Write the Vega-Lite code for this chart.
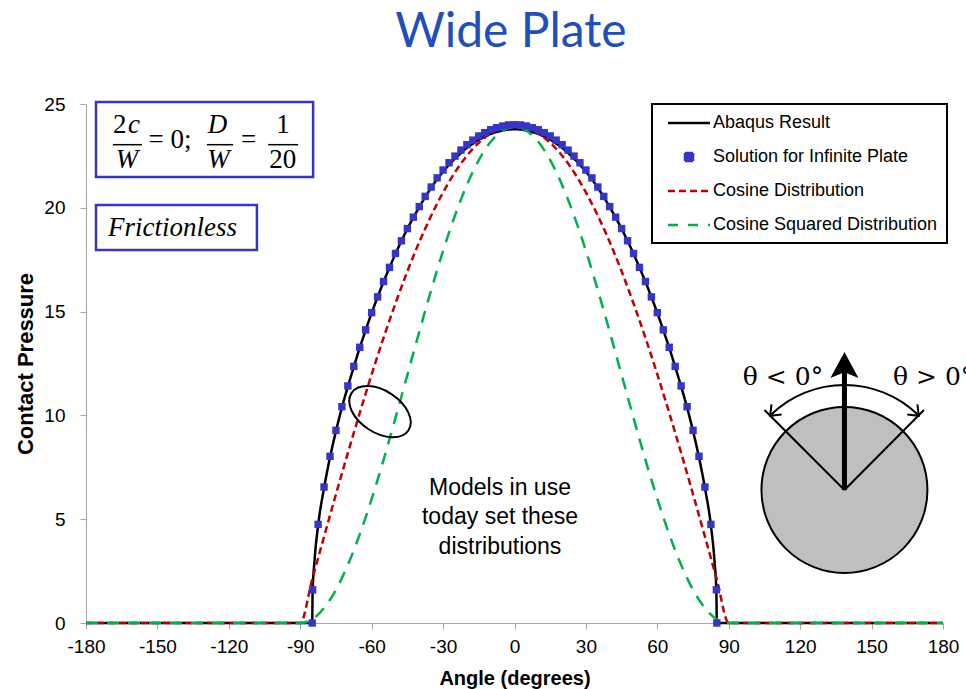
{
"$schema": "https://vega.github.io/schema/vega-lite/v6.json",
"width": 857, "height": 519, "autosize": "none",
"padding": {"left": 86, "top": 104, "right": 23, "bottom": 66},
"background": "white",
"config": {"view": {"stroke": null}, "font": "Liberation Sans"},
"datasets": {
"curves": [
{"series":"Abaqus Result","angle":-180,"pressure":0},{"series":"Abaqus Result","angle":-85,"pressure":0},{"series":"Abaqus Result","angle":-84.8,"pressure":1.5},{"series":"Abaqus Result","angle":-84,"pressure":3.0},{"series":"Abaqus Result","angle":-82.5,"pressure":4.7},{"series":"Abaqus Result","angle":-80,"pressure":6.5},{"series":"Abaqus Result","angle":-77.5,"pressure":7.98},{"series":"Abaqus Result","angle":-75,"pressure":9.24},{"series":"Abaqus Result","angle":-72.5,"pressure":10.38},{"series":"Abaqus Result","angle":-70,"pressure":11.39},{"series":"Abaqus Result","angle":-67.5,"pressure":12.34},{"series":"Abaqus Result","angle":-65,"pressure":13.26},{"series":"Abaqus Result","angle":-62.5,"pressure":14.11},{"series":"Abaqus Result","angle":-60,"pressure":14.94},{"series":"Abaqus Result","angle":-57.5,"pressure":15.7},{"series":"Abaqus Result","angle":-55,"pressure":16.44},{"series":"Abaqus Result","angle":-52.5,"pressure":17.12},{"series":"Abaqus Result","angle":-50,"pressure":17.79},{"series":"Abaqus Result","angle":-47.5,"pressure":18.4},{"series":"Abaqus Result","angle":-45,"pressure":18.99},{"series":"Abaqus Result","angle":-42.5,"pressure":19.53},{"series":"Abaqus Result","angle":-40,"pressure":20.03},{"series":"Abaqus Result","angle":-37.5,"pressure":20.52},{"series":"Abaqus Result","angle":-35,"pressure":20.96},{"series":"Abaqus Result","angle":-32.5,"pressure":21.38},{"series":"Abaqus Result","angle":-30,"pressure":21.74},{"series":"Abaqus Result","angle":-27.5,"pressure":22.07},{"series":"Abaqus Result","angle":-25,"pressure":22.37},{"series":"Abaqus Result","angle":-22.5,"pressure":22.64},{"series":"Abaqus Result","angle":-20,"pressure":22.89},{"series":"Abaqus Result","angle":-17.5,"pressure":23.09},{"series":"Abaqus Result","angle":-15,"pressure":23.28},{"series":"Abaqus Result","angle":-12.5,"pressure":23.43},{"series":"Abaqus Result","angle":-10,"pressure":23.56},{"series":"Abaqus Result","angle":-7.5,"pressure":23.65},{"series":"Abaqus Result","angle":-5,"pressure":23.72},{"series":"Abaqus Result","angle":-2.5,"pressure":23.77},{"series":"Abaqus Result","angle":0,"pressure":23.78},{"series":"Abaqus Result","angle":2.5,"pressure":23.77},{"series":"Abaqus Result","angle":5,"pressure":23.72},{"series":"Abaqus Result","angle":7.5,"pressure":23.65},{"series":"Abaqus Result","angle":10,"pressure":23.56},{"series":"Abaqus Result","angle":12.5,"pressure":23.43},{"series":"Abaqus Result","angle":15,"pressure":23.28},{"series":"Abaqus Result","angle":17.5,"pressure":23.09},{"series":"Abaqus Result","angle":20,"pressure":22.89},{"series":"Abaqus Result","angle":22.5,"pressure":22.64},{"series":"Abaqus Result","angle":25,"pressure":22.37},{"series":"Abaqus Result","angle":27.5,"pressure":22.07},{"series":"Abaqus Result","angle":30,"pressure":21.74},{"series":"Abaqus Result","angle":32.5,"pressure":21.38},{"series":"Abaqus Result","angle":35,"pressure":20.96},{"series":"Abaqus Result","angle":37.5,"pressure":20.52},{"series":"Abaqus Result","angle":40,"pressure":20.03},{"series":"Abaqus Result","angle":42.5,"pressure":19.53},{"series":"Abaqus Result","angle":45,"pressure":18.99},{"series":"Abaqus Result","angle":47.5,"pressure":18.4},{"series":"Abaqus Result","angle":50,"pressure":17.79},{"series":"Abaqus Result","angle":52.5,"pressure":17.12},{"series":"Abaqus Result","angle":55,"pressure":16.44},{"series":"Abaqus Result","angle":57.5,"pressure":15.7},{"series":"Abaqus Result","angle":60,"pressure":14.94},{"series":"Abaqus Result","angle":62.5,"pressure":14.11},{"series":"Abaqus Result","angle":65,"pressure":13.26},{"series":"Abaqus Result","angle":67.5,"pressure":12.34},{"series":"Abaqus Result","angle":70,"pressure":11.39},{"series":"Abaqus Result","angle":72.5,"pressure":10.38},{"series":"Abaqus Result","angle":75,"pressure":9.24},{"series":"Abaqus Result","angle":77.5,"pressure":7.98},{"series":"Abaqus Result","angle":80,"pressure":6.5},{"series":"Abaqus Result","angle":82.5,"pressure":4.7},{"series":"Abaqus Result","angle":84,"pressure":3.0},{"series":"Abaqus Result","angle":84.8,"pressure":1.5},{"series":"Abaqus Result","angle":85,"pressure":0},{"series":"Abaqus Result","angle":180,"pressure":0},
{"series":"Cosine Distribution","angle":-180,"pressure":0},{"series":"Cosine Distribution","angle":-90,"pressure":0},{"series":"Cosine Distribution","angle":-85,"pressure":2.09},{"series":"Cosine Distribution","angle":-80,"pressure":4.16},{"series":"Cosine Distribution","angle":-75,"pressure":6.2},{"series":"Cosine Distribution","angle":-70,"pressure":8.19},{"series":"Cosine Distribution","angle":-65,"pressure":10.12},{"series":"Cosine Distribution","angle":-60,"pressure":11.98},{"series":"Cosine Distribution","angle":-55,"pressure":13.74},{"series":"Cosine Distribution","angle":-50,"pressure":15.39},{"series":"Cosine Distribution","angle":-45,"pressure":16.94},{"series":"Cosine Distribution","angle":-40,"pressure":18.35},{"series":"Cosine Distribution","angle":-35,"pressure":19.62},{"series":"Cosine Distribution","angle":-30,"pressure":20.74},{"series":"Cosine Distribution","angle":-25,"pressure":21.71},{"series":"Cosine Distribution","angle":-20,"pressure":22.51},{"series":"Cosine Distribution","angle":-15,"pressure":23.13},{"series":"Cosine Distribution","angle":-10,"pressure":23.59},{"series":"Cosine Distribution","angle":-5,"pressure":23.86},{"series":"Cosine Distribution","angle":0,"pressure":23.95},{"series":"Cosine Distribution","angle":5,"pressure":23.86},{"series":"Cosine Distribution","angle":10,"pressure":23.59},{"series":"Cosine Distribution","angle":15,"pressure":23.13},{"series":"Cosine Distribution","angle":20,"pressure":22.51},{"series":"Cosine Distribution","angle":25,"pressure":21.71},{"series":"Cosine Distribution","angle":30,"pressure":20.74},{"series":"Cosine Distribution","angle":35,"pressure":19.62},{"series":"Cosine Distribution","angle":40,"pressure":18.35},{"series":"Cosine Distribution","angle":45,"pressure":16.94},{"series":"Cosine Distribution","angle":50,"pressure":15.39},{"series":"Cosine Distribution","angle":55,"pressure":13.74},{"series":"Cosine Distribution","angle":60,"pressure":11.98},{"series":"Cosine Distribution","angle":65,"pressure":10.12},{"series":"Cosine Distribution","angle":70,"pressure":8.19},{"series":"Cosine Distribution","angle":75,"pressure":6.2},{"series":"Cosine Distribution","angle":80,"pressure":4.16},{"series":"Cosine Distribution","angle":85,"pressure":2.09},{"series":"Cosine Distribution","angle":90,"pressure":0},{"series":"Cosine Distribution","angle":180,"pressure":0},
{"series":"Cosine Squared Distribution","angle":-180,"pressure":0},{"series":"Cosine Squared Distribution","angle":-90,"pressure":0},{"series":"Cosine Squared Distribution","angle":-85,"pressure":0.18},{"series":"Cosine Squared Distribution","angle":-80,"pressure":0.72},{"series":"Cosine Squared Distribution","angle":-75,"pressure":1.6},{"series":"Cosine Squared Distribution","angle":-70,"pressure":2.8},{"series":"Cosine Squared Distribution","angle":-65,"pressure":4.27},{"series":"Cosine Squared Distribution","angle":-60,"pressure":5.98},{"series":"Cosine Squared Distribution","angle":-55,"pressure":7.86},{"series":"Cosine Squared Distribution","angle":-50,"pressure":9.88},{"series":"Cosine Squared Distribution","angle":-45,"pressure":11.95},{"series":"Cosine Squared Distribution","angle":-40,"pressure":14.03},{"series":"Cosine Squared Distribution","angle":-35,"pressure":16.04},{"series":"Cosine Squared Distribution","angle":-30,"pressure":17.93},{"series":"Cosine Squared Distribution","angle":-25,"pressure":19.63},{"series":"Cosine Squared Distribution","angle":-20,"pressure":21.1},{"series":"Cosine Squared Distribution","angle":-15,"pressure":22.3},{"series":"Cosine Squared Distribution","angle":-10,"pressure":23.18},{"series":"Cosine Squared Distribution","angle":-5,"pressure":23.72},{"series":"Cosine Squared Distribution","angle":0,"pressure":23.9},{"series":"Cosine Squared Distribution","angle":5,"pressure":23.72},{"series":"Cosine Squared Distribution","angle":10,"pressure":23.18},{"series":"Cosine Squared Distribution","angle":15,"pressure":22.3},{"series":"Cosine Squared Distribution","angle":20,"pressure":21.1},{"series":"Cosine Squared Distribution","angle":25,"pressure":19.63},{"series":"Cosine Squared Distribution","angle":30,"pressure":17.93},{"series":"Cosine Squared Distribution","angle":35,"pressure":16.04},{"series":"Cosine Squared Distribution","angle":40,"pressure":14.03},{"series":"Cosine Squared Distribution","angle":45,"pressure":11.95},{"series":"Cosine Squared Distribution","angle":50,"pressure":9.88},{"series":"Cosine Squared Distribution","angle":55,"pressure":7.86},{"series":"Cosine Squared Distribution","angle":60,"pressure":5.98},{"series":"Cosine Squared Distribution","angle":65,"pressure":4.27},{"series":"Cosine Squared Distribution","angle":70,"pressure":2.8},{"series":"Cosine Squared Distribution","angle":75,"pressure":1.6},{"series":"Cosine Squared Distribution","angle":80,"pressure":0.72},{"series":"Cosine Squared Distribution","angle":85,"pressure":0.18},{"series":"Cosine Squared Distribution","angle":90,"pressure":0},{"series":"Cosine Squared Distribution","angle":180,"pressure":0}
],
"solution": [
{"series":"Solution for Infinite Plate","angle":-85,"pressure":0},{"series":"Solution for Infinite Plate","angle":-84.8,"pressure":1.6},{"series":"Solution for Infinite Plate","angle":-82.5,"pressure":4.75},{"series":"Solution for Infinite Plate","angle":-80,"pressure":6.55},{"series":"Solution for Infinite Plate","angle":-77.5,"pressure":8.03},{"series":"Solution for Infinite Plate","angle":-75,"pressure":9.28},{"series":"Solution for Infinite Plate","angle":-72.5,"pressure":10.42},{"series":"Solution for Infinite Plate","angle":-70,"pressure":11.42},{"series":"Solution for Infinite Plate","angle":-67.5,"pressure":12.36},{"series":"Solution for Infinite Plate","angle":-65,"pressure":13.28},{"series":"Solution for Infinite Plate","angle":-62.5,"pressure":14.12},{"series":"Solution for Infinite Plate","angle":-60,"pressure":14.95},{"series":"Solution for Infinite Plate","angle":-57.5,"pressure":15.71},{"series":"Solution for Infinite Plate","angle":-55,"pressure":16.45},{"series":"Solution for Infinite Plate","angle":-52.5,"pressure":17.13},{"series":"Solution for Infinite Plate","angle":-50,"pressure":17.8},{"series":"Solution for Infinite Plate","angle":-47.5,"pressure":18.41},{"series":"Solution for Infinite Plate","angle":-45,"pressure":19.0},{"series":"Solution for Infinite Plate","angle":-42.5,"pressure":19.55},{"series":"Solution for Infinite Plate","angle":-40,"pressure":20.06},{"series":"Solution for Infinite Plate","angle":-37.5,"pressure":20.55},{"series":"Solution for Infinite Plate","angle":-35,"pressure":21.0},{"series":"Solution for Infinite Plate","angle":-32.5,"pressure":21.44},{"series":"Solution for Infinite Plate","angle":-30,"pressure":21.82},{"series":"Solution for Infinite Plate","angle":-27.5,"pressure":22.17},{"series":"Solution for Infinite Plate","angle":-25,"pressure":22.49},{"series":"Solution for Infinite Plate","angle":-22.5,"pressure":22.78},{"series":"Solution for Infinite Plate","angle":-20,"pressure":23.04},{"series":"Solution for Infinite Plate","angle":-17.5,"pressure":23.26},{"series":"Solution for Infinite Plate","angle":-15,"pressure":23.46},{"series":"Solution for Infinite Plate","angle":-12.5,"pressure":23.62},{"series":"Solution for Infinite Plate","angle":-10,"pressure":23.76},{"series":"Solution for Infinite Plate","angle":-7.5,"pressure":23.86},{"series":"Solution for Infinite Plate","angle":-5,"pressure":23.94},{"series":"Solution for Infinite Plate","angle":-2.5,"pressure":23.99},{"series":"Solution for Infinite Plate","angle":0,"pressure":24.0},{"series":"Solution for Infinite Plate","angle":2.5,"pressure":23.99},{"series":"Solution for Infinite Plate","angle":5,"pressure":23.94},{"series":"Solution for Infinite Plate","angle":7.5,"pressure":23.86},{"series":"Solution for Infinite Plate","angle":10,"pressure":23.76},{"series":"Solution for Infinite Plate","angle":12.5,"pressure":23.62},{"series":"Solution for Infinite Plate","angle":15,"pressure":23.46},{"series":"Solution for Infinite Plate","angle":17.5,"pressure":23.26},{"series":"Solution for Infinite Plate","angle":20,"pressure":23.04},{"series":"Solution for Infinite Plate","angle":22.5,"pressure":22.78},{"series":"Solution for Infinite Plate","angle":25,"pressure":22.49},{"series":"Solution for Infinite Plate","angle":27.5,"pressure":22.17},{"series":"Solution for Infinite Plate","angle":30,"pressure":21.82},{"series":"Solution for Infinite Plate","angle":32.5,"pressure":21.44},{"series":"Solution for Infinite Plate","angle":35,"pressure":21.0},{"series":"Solution for Infinite Plate","angle":37.5,"pressure":20.55},{"series":"Solution for Infinite Plate","angle":40,"pressure":20.06},{"series":"Solution for Infinite Plate","angle":42.5,"pressure":19.55},{"series":"Solution for Infinite Plate","angle":45,"pressure":19.0},{"series":"Solution for Infinite Plate","angle":47.5,"pressure":18.41},{"series":"Solution for Infinite Plate","angle":50,"pressure":17.8},{"series":"Solution for Infinite Plate","angle":52.5,"pressure":17.13},{"series":"Solution for Infinite Plate","angle":55,"pressure":16.45},{"series":"Solution for Infinite Plate","angle":57.5,"pressure":15.71},{"series":"Solution for Infinite Plate","angle":60,"pressure":14.95},{"series":"Solution for Infinite Plate","angle":62.5,"pressure":14.12},{"series":"Solution for Infinite Plate","angle":65,"pressure":13.28},{"series":"Solution for Infinite Plate","angle":67.5,"pressure":12.36},{"series":"Solution for Infinite Plate","angle":70,"pressure":11.42},{"series":"Solution for Infinite Plate","angle":72.5,"pressure":10.42},{"series":"Solution for Infinite Plate","angle":75,"pressure":9.28},{"series":"Solution for Infinite Plate","angle":77.5,"pressure":8.03},{"series":"Solution for Infinite Plate","angle":80,"pressure":6.55},{"series":"Solution for Infinite Plate","angle":82.5,"pressure":4.75},{"series":"Solution for Infinite Plate","angle":84.8,"pressure":1.6},{"series":"Solution for Infinite Plate","angle":85,"pressure":0}
]
},
"layer": [
{"data": {"name": "curves"},
 "mark": {"type": "line", "strokeWidth": 2.5, "interpolate": "monotone"},
 "encoding": {
  "x": {"field": "angle", "type": "quantitative", "scale": {"domain": [-180, 180], "nice": false, "zero": false},
   "axis": {"title": "Angle (degrees)", "values": [-180,-150,-120,-90,-60,-30,0,30,60,90,120,150,180], "labelExpr": "'' + datum.value", "labelFontSize": 19, "labelFont": "Liberation Sans", "labelColor": "#000000", "labelPadding": 8, "tickSize": 6, "tickColor": "#A6A6A6", "domainColor": "#A6A6A6", "grid": false, "titleFontSize": 20, "titleFont": "Liberation Sans", "titleFontWeight": "bold", "titleColor": "#000000", "titlePadding": 12, "labelFlush": false, "labelOverlap": false}},
  "y": {"field": "pressure", "type": "quantitative", "scale": {"domain": [0, 25], "nice": false},
   "axis": {"title": "Contact Pressure", "values": [0,5,10,15,20,25], "labelFontSize": 19, "labelFont": "Liberation Sans", "labelColor": "#000000", "labelPadding": 15, "tickSize": 6, "tickColor": "#A6A6A6", "domainColor": "#A6A6A6", "grid": false, "titleFontSize": 22, "titleFont": "Liberation Sans", "titleFontWeight": "bold", "titleColor": "#000000", "titlePadding": 6, "labelFlush": false}},
  "color": {"field": "series", "type": "nominal",
   "scale": {"domain": ["Abaqus Result", "Solution for Infinite Plate", "Cosine Distribution", "Cosine Squared Distribution"], "range": ["#000000", "#3535C8", "#C00000", "#00B050"]},
   "legend": {"orient": "none", "legendX": 566, "legendY": 0, "title": null, "titlePadding": 0, "padding": 9, "strokeColor": "#000000", "fillColor": "#FFFFFF", "labelFontSize": 18, "labelFont": "Liberation Sans", "labelColor": "#000000", "symbolSize": 324, "symbolType": "stroke", "symbolStrokeWidth": 2.5, "rowPadding": 15, "labelOffset": 3, "labelLimit": 400,
    "encode": {
     "legend": {"update": {"strokeWidth": {"value": 2}}},
     "labels": {"update": {"x": {"value": 52}, "y": {"value": 10}}},
     "symbols": {"update": {
      "x": {"value": 28},
      "y": {"value": 10},
      "shape": {"signal": "datum.value === 'Solution for Infinite Plate' ? 'square' : 'stroke'"},
      "size": {"signal": "datum.value === 'Solution for Infinite Plate' ? 64 : 1764"},
      "fill": {"signal": "datum.value === 'Solution for Infinite Plate' ? '#3535C8' : 'transparent'"},
      "stroke": {"signal": "datum.value === 'Abaqus Result' ? '#000000' : datum.value === 'Cosine Distribution' ? '#C00000' : datum.value === 'Cosine Squared Distribution' ? '#00B050' : 'transparent'"},
      "strokeDash": {"signal": "datum.value === 'Cosine Distribution' ? [7,4] : datum.value === 'Cosine Squared Distribution' ? [10,10] : [1,0]"},
      "strokeWidth": {"value": 2.5},
      "opacity": {"value": 1}
     }}
    }}},
  "strokeDash": {"field": "series", "type": "nominal", "scale": {"domain": ["Abaqus Result", "Cosine Distribution", "Cosine Squared Distribution"], "range": [[1, 0], [7, 4], [12, 9]]}, "legend": null}
 }},
{"data": {"name": "solution"},
 "mark": {"type": "point", "shape": "square", "filled": true, "size": 55, "opacity": 1},
 "encoding": {"x": {"field": "angle", "type": "quantitative"}, "y": {"field": "pressure", "type": "quantitative"}, "color": {"field": "series", "type": "nominal"}}},
{"data": {"values": [{}]}, "mark": {"type": "text", "text": "Wide Plate", "font": "Lato", "fontSize": 48, "align": "center", "baseline": "alphabetic", "color": "#1F4EBD"},
 "encoding": {"x": {"datum": -1.5}, "y": {"datum": 27.75}}},
{"data": {"values": [{}]}, "mark": {"type": "rect", "fill": "#FFFFFF", "fillOpacity": 0, "stroke": "#3535C8", "strokeWidth": 2.5},
 "encoding": {"x": {"datum": -175.8}, "x2": {"datum": -84.6}, "y": {"datum": 25.1}, "y2": {"datum": 21.48}}},
{"data": {"values": [{}]}, "mark": {"type": "rect", "fill": "#FFFFFF", "fillOpacity": 0, "stroke": "#3535C8", "strokeWidth": 2.5},
 "encoding": {"x": {"datum": -175.8}, "x2": {"datum": -108.2}, "y": {"datum": 20.13}, "y2": {"datum": 17.97}}},
{"data": {"values": [{}]}, "mark": {"type": "text", "text": "2", "font": "Liberation Serif", "fontSize": 27, "align": "center", "baseline": "alphabetic", "color": "#000000"},
 "encoding": {"x": {"datum": -165.8}, "y": {"datum": 23.6}}},
{"data": {"values": [{}]}, "mark": {"type": "text", "text": "c", "font": "Liberation Serif", "fontStyle": "italic", "fontSize": 27, "align": "center", "baseline": "alphabetic", "color": "#000000"},
 "encoding": {"x": {"datum": -159.8}, "y": {"datum": 23.6}}},
{"data": {"values": [{}]}, "mark": {"type": "text", "text": "W", "font": "Liberation Serif", "fontStyle": "italic", "fontSize": 27, "align": "center", "baseline": "alphabetic", "color": "#000000"},
 "encoding": {"x": {"datum": -162.8}, "y": {"datum": 21.92}}},
{"data": {"values": [{}]}, "mark": {"type": "rule", "stroke": "#000000", "strokeWidth": 1.5},
 "encoding": {"x": {"datum": -168.7}, "x2": {"datum": -156.5}, "y": {"datum": 23.04}}},
{"data": {"values": [{}]}, "mark": {"type": "text", "text": "= 0;", "font": "Liberation Serif", "fontSize": 27, "align": "center", "baseline": "alphabetic", "color": "#000000"},
 "encoding": {"x": {"datum": -144.7}, "y": {"datum": 22.88}}},
{"data": {"values": [{}]}, "mark": {"type": "text", "text": "D", "font": "Liberation Serif", "fontStyle": "italic", "fontSize": 27, "align": "center", "baseline": "alphabetic", "color": "#000000"},
 "encoding": {"x": {"datum": -124.8}, "y": {"datum": 23.6}}},
{"data": {"values": [{}]}, "mark": {"type": "text", "text": "W", "font": "Liberation Serif", "fontStyle": "italic", "fontSize": 27, "align": "center", "baseline": "alphabetic", "color": "#000000"},
 "encoding": {"x": {"datum": -124.3}, "y": {"datum": 21.92}}},
{"data": {"values": [{}]}, "mark": {"type": "rule", "stroke": "#000000", "strokeWidth": 1.5},
 "encoding": {"x": {"datum": -129.2}, "x2": {"datum": -118.2}, "y": {"datum": 23.04}}},
{"data": {"values": [{}]}, "mark": {"type": "text", "text": "=", "font": "Liberation Serif", "fontSize": 27, "align": "center", "baseline": "alphabetic", "color": "#000000"},
 "encoding": {"x": {"datum": -111.7}, "y": {"datum": 22.88}}},
{"data": {"values": [{}]}, "mark": {"type": "text", "text": "1", "font": "Liberation Serif", "fontSize": 27, "align": "center", "baseline": "alphabetic", "color": "#000000"},
 "encoding": {"x": {"datum": -97.2}, "y": {"datum": 23.6}}},
{"data": {"values": [{}]}, "mark": {"type": "text", "text": "20", "font": "Liberation Serif", "fontSize": 27, "align": "center", "baseline": "alphabetic", "color": "#000000"},
 "encoding": {"x": {"datum": -97.4}, "y": {"datum": 21.92}}},
{"data": {"values": [{}]}, "mark": {"type": "rule", "stroke": "#000000", "strokeWidth": 1.5},
 "encoding": {"x": {"datum": -103.5}, "x2": {"datum": -90.9}, "y": {"datum": 23.04}}},
{"data": {"values": [{}]}, "mark": {"type": "text", "text": "Frictionless", "font": "Liberation Serif", "fontStyle": "italic", "fontSize": 27, "align": "center", "baseline": "alphabetic", "color": "#000000"},
 "encoding": {"x": {"datum": -143.7}, "y": {"datum": 18.62}}},
{"data": {"values": [{}]}, "mark": {"type": "point", "shape": "M -0.713 -0.463 A 0.85 0.525 33 1 1 0.713 0.463 A 0.85 0.525 33 1 1 -0.713 -0.463 Z", "size": 6400, "filled": false, "stroke": "#000000", "strokeWidth": 2, "opacity": 1},
 "encoding": {"x": {"datum": -56.5}, "y": {"datum": 10.18}}},
{"data": {"values": [{}]}, "mark": {"type": "text", "text": ["Models in use", "today set these", "distributions"], "font": "Liberation Sans", "fontSize": 23, "lineHeight": 29.5, "align": "center", "baseline": "alphabetic", "color": "#000000"},
 "encoding": {"x": {"datum": -6.1}, "y": {"datum": 6.17}}},
{"data": {"values": [{}]}, "mark": {"type": "point", "shape": "circle", "size": 27556, "filled": true, "fill": "#BFBFBF", "stroke": "#000000", "strokeWidth": 2, "opacity": 1},
 "encoding": {"x": {"datum": 138.6}, "y": {"datum": 6.41}}},
{"data": {"values": [{}]}, "mark": {"type": "rule", "stroke": "#000000", "strokeWidth": 2},
 "encoding": {"x": {"datum": 138.6}, "y": {"datum": 6.41}, "x2": {"datum": 105.0}, "y2": {"datum": 10.26}}},
{"data": {"values": [{}]}, "mark": {"type": "rule", "stroke": "#000000", "strokeWidth": 2},
 "encoding": {"x": {"datum": 138.6}, "y": {"datum": 6.41}, "x2": {"datum": 172.0}, "y2": {"datum": 10.26}}},
{"data": {"values": [{}]}, "mark": {"type": "rule", "stroke": "#000000", "strokeWidth": 5},
 "encoding": {"x": {"datum": 138.6}, "y": {"datum": 6.41}, "y2": {"datum": 12.09}}},
{"data": {"values": [{}]}, "mark": {"type": "point", "shape": "M 0 0 L 1.08 2 L 0 1.55 L -1.08 2 Z", "size": 676, "filled": true, "fill": "#000000", "strokeWidth": 0, "opacity": 1},
 "encoding": {"x": {"datum": 138.6}, "y": {"datum": 13.05}}},
{"data": {"values": [{}]}, "mark": {"type": "arc", "theta": -0.77, "theta2": 0.77, "radius": 106, "radius2": 104, "fill": "#000000"},
 "encoding": {"x": {"datum": 138.6}, "y": {"datum": 6.41}}},
{"data": {"values": [{}]}, "mark": {"type": "point", "shape": "M -0.8 1 L 0 0 L 0.8 1", "size": 324, "filled": false, "stroke": "#000000", "strokeWidth": 2, "angle": 225, "opacity": 1},
 "encoding": {"x": {"datum": 107.4}, "y": {"datum": 9.98}}},
{"data": {"values": [{}]}, "mark": {"type": "point", "shape": "M -0.8 1 L 0 0 L 0.8 1", "size": 324, "filled": false, "stroke": "#000000", "strokeWidth": 2, "angle": 135, "opacity": 1},
 "encoding": {"x": {"datum": 169.8}, "y": {"datum": 9.98}}},
{"data": {"values": [{}]}, "mark": {"type": "text", "text": "θ < 0°", "font": "DejaVu Serif", "fontSize": 25, "align": "center", "baseline": "alphabetic", "color": "#000000"},
 "encoding": {"x": {"datum": 112.8}, "y": {"datum": 11.46}}},
{"data": {"values": [{}]}, "mark": {"type": "text", "text": "θ > 0°", "font": "DejaVu Serif", "fontSize": 25, "align": "left", "baseline": "alphabetic", "color": "#000000"},
 "encoding": {"x": {"datum": 159.0}, "y": {"datum": 11.46}}}
]
}
